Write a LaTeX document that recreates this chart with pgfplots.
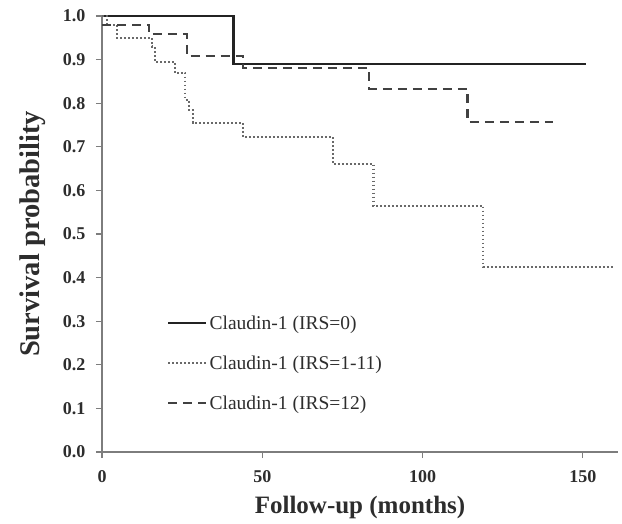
\documentclass[border=0pt]{standalone}
\usepackage{pgfplots}
\pgfplotsset{compat=1.18}
\usepackage{fontspec}
\setmainfont{Liberation Serif}
\definecolor{axgray}{RGB}{125,125,125}
\definecolor{txtgray}{RGB}{45,45,45}
\definecolor{lnsolid}{RGB}{35,35,35}
\definecolor{lndash}{RGB}{65,65,65}
\definecolor{lndot}{RGB}{105,105,105}
\begin{document}
\begin{tikzpicture}
\begin{axis}[
    scale only axis,
    width=516pt,
    height=436pt,
    xmin=0, xmax=161,
    ymin=0, ymax=1.0,
    axis lines=left,
    axis line style={-, axgray, line width=1.6pt},
    xtick={0,50,100,150},
    ytick={0,0.1,...,1.0},
    tick align=outside,
    major tick length=6pt,
    tick style={axgray, line width=1.2pt},
    /pgf/number format/assume math mode=true,
    /pgf/number format/fixed,
    /pgf/number format/fixed zerofill,
    /pgf/number format/precision=1,
    xticklabel style={/pgf/number format/precision=0, /pgf/number format/fixed zerofill=false, yshift=-9pt},
    yticklabel style={xshift=-7pt},
    ticklabel style={font=\fontsize{18}{20}\selectfont\bfseries, text=txtgray},
    xlabel={Follow-up (months)},
    ylabel={Survival probability},
    xlabel shift=7pt,
    ylabel shift=10pt,
    xlabel style={font=\fontsize{25}{27}\selectfont\bfseries, text=txtgray},
    ylabel style={font=\fontsize{28.5}{30}\selectfont\bfseries, text=txtgray},
    legend style={draw=none, fill=none, at={(axis cs:20.3,0.318)}, anchor=north west,
        font=\fontsize{19.5}{21}\selectfont, text=txtgray, row sep=21pt, inner sep=0pt},
    legend cell align=left,
    legend image code/.code={\draw[#1] (0pt,0pt) -- (38pt,0pt);},
]
\addplot[const plot, lnsolid, line width=2.4pt] coordinates {
    (0,1.0) (41,0.89) (151,0.89)
};
\addplot[const plot, lndot, line width=2.2pt, dash pattern=on 1.8pt off 2.2pt] coordinates {
    (0,1.0) (1.5,0.98) (4.6,0.95) (15.6,0.93) (16.5,0.895) (22.8,0.869)
    (26,0.807) (27.2,0.784) (28.3,0.755) (44,0.722) (72,0.66)
    (84.7,0.564) (119,0.424) (160,0.424)
};
\addplot[const plot, lndash, line width=2.3pt, dash pattern=on 9pt off 6pt] coordinates {
    (0,0.98) (14.7,0.959) (26.5,0.908) (44,0.88) (83.4,0.833)
    (114,0.757) (140.6,0.757)
};
\legend{Claudin-1 (IRS=0), Claudin-1 (IRS=1-11), Claudin-1 (IRS=12)}
\end{axis}
% fix the page margins to those of the original figure
\path (current axis.south west) ++(-102pt,-71pt);
\path (current axis.north east) ++(4pt,16pt);
\end{tikzpicture}
\end{document}
